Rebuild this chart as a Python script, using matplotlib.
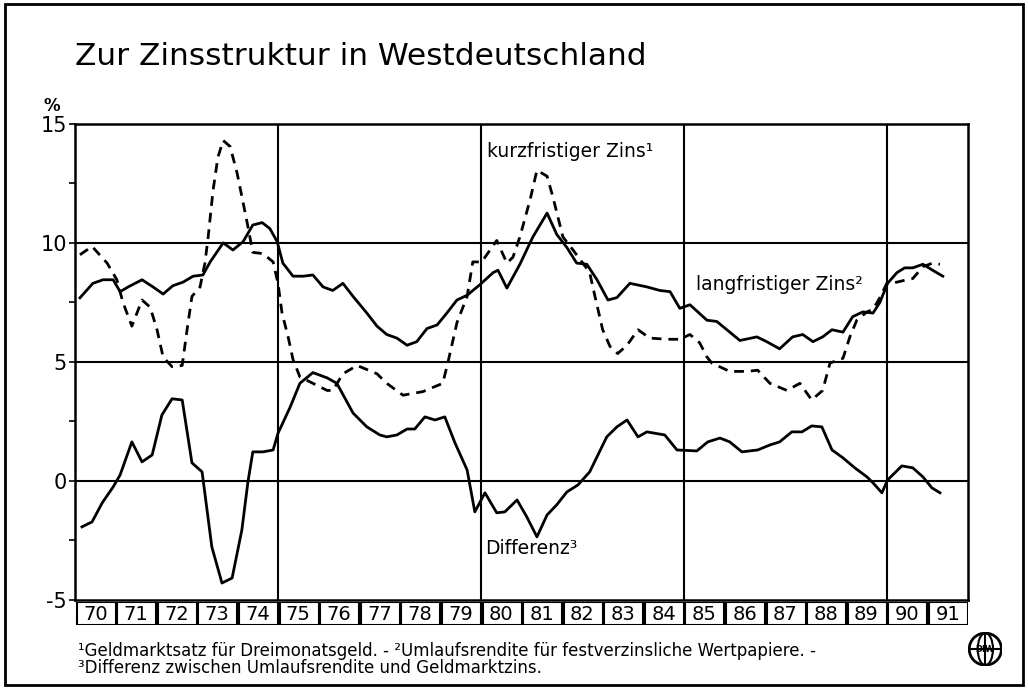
import matplotlib.pyplot as plt
from matplotlib.patches import Rectangle, Circle, Ellipse

# Umlaufsrendite (langfristiger Zins)
lang_x = [1970.12, 1970.44, 1970.69, 1970.94, 1971.11, 1971.31, 1971.65, 1971.92,
          1972.17, 1972.41, 1972.66, 1972.91, 1973.15, 1973.33, 1973.65, 1973.89,
          1974.14, 1974.38, 1974.61, 1974.80, 1974.98, 1975.12, 1975.37, 1975.62,
          1975.86, 1976.11, 1976.35, 1976.60, 1976.85, 1977.19, 1977.44, 1977.68,
          1977.93, 1978.18, 1978.42, 1978.67, 1978.92, 1979.16, 1979.41, 1979.66,
          1979.98, 1980.30, 1980.42, 1980.64, 1980.96, 1981.28, 1981.63, 1981.87,
          1982.12, 1982.36, 1982.61, 1982.86, 1983.13, 1983.35, 1983.67, 1984.09,
          1984.41, 1984.66, 1984.90, 1985.15, 1985.57, 1985.81, 1986.06, 1986.38,
          1986.80, 1987.04, 1987.36, 1987.68, 1987.93, 1988.18, 1988.42, 1988.65,
          1988.92, 1989.16, 1989.41, 1989.66, 1989.83, 1990.02, 1990.25, 1990.44,
          1990.64, 1990.89, 1991.13, 1991.38]
lang_y = [7.69, 8.3, 8.45, 8.45, 7.95, 8.15, 8.45, 8.15,
          7.85, 8.2, 8.35, 8.6, 8.65, 9.2, 10.0, 9.7,
          10.05, 10.75, 10.85, 10.6, 10.05, 9.15, 8.6, 8.6,
          8.65, 8.15, 8.0, 8.3, 7.75, 7.05, 6.5, 6.15,
          6.0, 5.7, 5.85, 6.4, 6.55, 7.05, 7.6, 7.8,
          8.25, 8.75, 8.85, 8.1, 9.1, 10.25, 11.25, 10.35,
          9.8, 9.15, 9.1, 8.45, 7.6, 7.7, 8.3, 8.15,
          8.0, 7.95, 7.25, 7.4, 6.75, 6.7, 6.35, 5.9,
          6.05, 5.85, 5.55, 6.05, 6.15, 5.85, 6.05, 6.35,
          6.25, 6.9, 7.1, 7.05, 7.5, 8.3, 8.75, 8.95,
          8.95, 9.1, 8.85, 8.6]

# Geldmarktsatz (kurzfristiger Zins)
kurz_x = [1970.12, 1970.42, 1970.79, 1971.03, 1971.18, 1971.40, 1971.65, 1971.85,
          1972.02, 1972.17, 1972.39, 1972.64, 1972.76, 1972.88, 1973.08, 1973.20,
          1973.28, 1973.40, 1973.52, 1973.65, 1973.82, 1973.99, 1974.11, 1974.24,
          1974.38, 1974.63, 1974.88, 1975.00, 1975.10, 1975.25, 1975.37, 1975.54,
          1975.86, 1976.21, 1976.35, 1976.60, 1976.95, 1977.44, 1977.68, 1978.08,
          1978.57, 1979.06, 1979.19, 1979.41, 1979.66, 1979.80, 1980.02, 1980.39,
          1980.64, 1980.79, 1980.96, 1981.21, 1981.38, 1981.63, 1981.77, 1982.02,
          1982.27, 1982.51, 1982.68, 1982.81, 1983.00, 1983.18, 1983.37, 1983.60,
          1983.87, 1984.16, 1984.58, 1984.90, 1985.15, 1985.39, 1985.57, 1985.69,
          1986.13, 1986.55, 1986.82, 1987.12, 1987.54, 1987.86, 1988.15, 1988.42,
          1988.60, 1988.92, 1989.09, 1989.26, 1989.51, 1989.66, 1989.83, 1990.00,
          1990.25, 1990.49, 1990.64, 1990.89, 1991.13, 1991.31]
kurz_y = [9.5, 9.85, 9.15, 8.45, 7.5, 6.5, 7.6, 7.3,
          6.35, 5.2, 4.8, 4.85, 6.35, 7.75, 8.15, 9.15,
          10.25, 12.2, 13.6, 14.3, 14.05, 12.95, 11.95, 10.85,
          9.6, 9.55, 9.2, 8.3, 7.05, 6.05, 5.1, 4.37,
          4.1, 3.8, 3.8, 4.5, 4.85, 4.5, 4.1, 3.6,
          3.75, 4.1, 5.0, 6.65, 7.75, 9.2, 9.2, 10.1,
          9.15, 9.4, 10.25, 11.8, 13.05, 12.8, 11.95, 10.25,
          9.7, 9.15, 8.75, 7.75, 6.35, 5.65, 5.35, 5.7,
          6.35, 6.0, 5.95, 5.95, 6.15, 5.8, 5.2, 4.95,
          4.6, 4.6, 4.65, 4.1, 3.8, 4.1, 3.4, 3.8,
          4.95, 5.15, 6.05, 6.75, 7.1, 7.2, 7.7, 8.3,
          8.35, 8.45, 8.5, 9.0, 9.15, 9.1]

# Differenz
diff_x = [1970.17, 1970.42, 1970.67, 1970.94, 1971.11, 1971.40, 1971.65, 1971.90,
          1972.14, 1972.39, 1972.64, 1972.88, 1973.13, 1973.37, 1973.62, 1973.87,
          1974.11, 1974.26, 1974.38, 1974.63, 1974.88, 1975.00, 1975.30, 1975.54,
          1975.86, 1976.21, 1976.45, 1976.85, 1977.19, 1977.51, 1977.68, 1977.93,
          1978.18, 1978.37, 1978.62, 1978.87, 1979.11, 1979.36, 1979.66, 1979.85,
          1980.10, 1980.39, 1980.59, 1980.89, 1981.13, 1981.38, 1981.63, 1981.87,
          1982.12, 1982.39, 1982.68, 1983.10, 1983.35, 1983.60, 1983.87, 1984.09,
          1984.53, 1984.83, 1985.32, 1985.59, 1985.89, 1986.13, 1986.43, 1986.82,
          1987.12, 1987.36, 1987.66, 1987.91, 1988.15, 1988.40, 1988.65, 1988.92,
          1989.21, 1989.51, 1989.66, 1989.88, 1990.02, 1990.37, 1990.64, 1990.89,
          1991.11, 1991.31]
diff_y = [-1.93, -1.72, -0.92, -0.25, 0.25, 1.64, 0.8, 1.09,
          2.77, 3.45, 3.4, 0.76, 0.38, -2.77, -4.29, -4.08,
          -2.06, -0.04, 1.22, 1.22, 1.3, 2.0, 3.1, 4.1,
          4.55, 4.33, 4.1, 2.85, 2.27, 1.93, 1.85, 1.93,
          2.18, 2.18, 2.69, 2.56, 2.69, 1.6, 0.46, -1.3,
          -0.5, -1.34, -1.3, -0.8, -1.51, -2.35, -1.43, -1.0,
          -0.46, -0.17, 0.38, 1.85, 2.27, 2.56, 1.85, 2.06,
          1.93, 1.3, 1.26, 1.64, 1.8, 1.64, 1.22, 1.3,
          1.51, 1.64, 2.06, 2.06, 2.31, 2.27, 1.3, 0.97,
          0.55, 0.17, -0.08, -0.5, 0.04, 0.63, 0.55, 0.17,
          -0.29, -0.5]

jahre = list(range(1970, 1992))
y_ticks = [-5, 0, 5, 10, 15]

fig = plt.figure(figsize=(10.28, 6.88), dpi=100)
ax = fig.add_axes([0.073, 0.128, 0.8686, 0.692])

for v in [0, 5, 10]:
    ax.axhline(v, color='black', lw=1.5, zorder=1)
for v in [1975, 1980, 1985, 1990]:
    ax.axvline(v, color='black', lw=1.5, zorder=1)

ax.plot(lang_x, lang_y, color='black', lw=2, zorder=3)
ax.plot(kurz_x, kurz_y, color='black', lw=2, linestyle=(0, (3.5, 2.5)), zorder=3)
ax.plot(diff_x, diff_y, color='black', lw=2, zorder=3)

ax.set_xlim(1970, 1992)
ax.set_ylim(-5, 15)
ax.set_xticks([])
ax.set_yticks(y_ticks)
ax.set_yticklabels([str(t) for t in y_ticks], fontsize=15)
ax.set_yticks([-2.5, 2.5, 7.5, 12.5], minor=True)
ax.tick_params(axis='y', which='both', direction='out', length=4, width=1.2, pad=2)
for s in ax.spines.values():
    s.set_linewidth(1.8)

ax.text(1980.15, 13.6, 'kurzfristiger Zins¹', fontsize=13.5)
ax.text(1985.3, 8.0, 'langfristiger Zins²', fontsize=13.5)
ax.text(1980.1, -3.05, 'Differenz³', fontsize=13.5)

# Jahreskästchen unter der Grafik
axj = fig.add_axes([0.073, 0.0916, 0.8686, 0.0334])
axj.set_xlim(1970, 1992)
axj.set_ylim(0, 1)
axj.axis('off')
for j in jahre:
    axj.add_patch(Rectangle((j + 0.04, 0), 0.96, 1, fill=False, lw=1.5, ec='black'))
    axj.text(j + 0.5, 0.45, str(j)[2:], ha='center', va='center', fontsize=14)

fig.text(0.073, 0.905, 'Zur Zinsstruktur in Westdeutschland', fontsize=22.5)
fig.text(0.042, 0.838, '%', fontsize=12, fontweight='bold')

fig.text(0.076, 0.047,
         '¹Geldmarktsatz für Dreimonatsgeld. - ²Umlaufsrendite für festverzinsliche Wertpapiere. -',
         fontsize=12, va='baseline')
fig.text(0.076, 0.022, '³Differenz zwischen Umlaufsrendite und Geldmarktzins.',
         fontsize=12, va='baseline')

# Rahmen und Logo
fig.patches.append(Rectangle((0.005, 0.004), 0.99, 0.99, fill=False, lw=2,
                             ec='black', transform=fig.transFigure, figure=fig))
axl = fig.add_axes([0.942, 0.032, 0.033, 0.049])
axl.set_xlim(-1, 1)
axl.set_ylim(-1, 1)
axl.axis('off')
axl.add_patch(Circle((0, 0), 0.95, fill=False, lw=2, ec='black'))
axl.add_patch(Ellipse((0, 0), 0.9, 1.9, fill=False, lw=1.5, ec='black'))
axl.plot([-0.95, 0.95], [0, 0], color='black', lw=1.5)
axl.plot([0, 0], [-0.95, 0.95], color='black', lw=1.5)
axl.text(0, 0, 'DIW', ha='center', va='center', fontsize=6, fontweight='bold')

fig.savefig('out.png', dpi=100)
